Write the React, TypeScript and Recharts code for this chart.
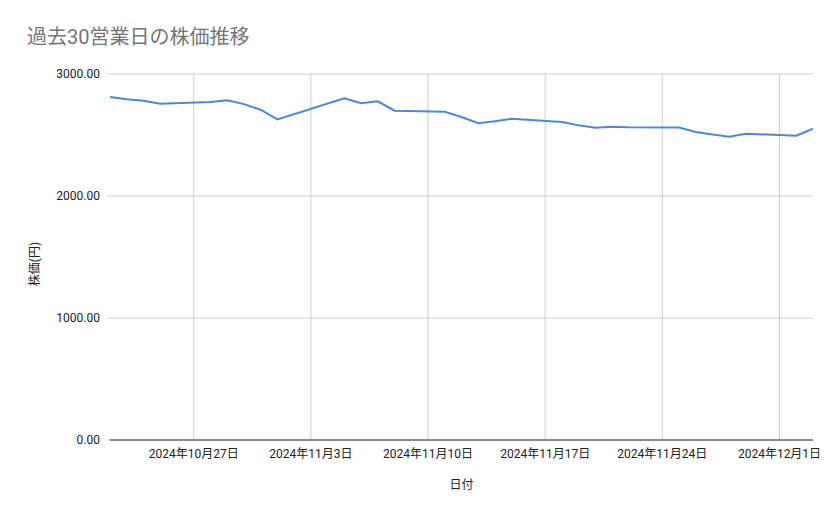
import React from 'react';
import { LineChart, Line, XAxis, YAxis, CartesianGrid, ReferenceLine } from 'recharts';

const dates = [
  '2024-10-22', '2024-10-23', '2024-10-24', '2024-10-25',
  '2024-10-28', '2024-10-29', '2024-10-30', '2024-10-31', '2024-11-01',
  '2024-11-05', '2024-11-06', '2024-11-07', '2024-11-08',
  '2024-11-11', '2024-11-12', '2024-11-13', '2024-11-14', '2024-11-15',
  '2024-11-18', '2024-11-19', '2024-11-20', '2024-11-21', '2024-11-22',
  '2024-11-25', '2024-11-26', '2024-11-27', '2024-11-28', '2024-11-29',
  '2024-12-02', '2024-12-03',
];
const prices = [
  2811, 2793, 2781, 2757,
  2770, 2784, 2753, 2707, 2628,
  2801, 2760, 2776, 2699,
  2691, 2648, 2596, 2612, 2634,
  2607, 2579, 2560, 2568, 2563,
  2561, 2525, 2505, 2486, 2511,
  2494, 2552,
];
const xTickDates = ['2024-10-27', '2024-11-03', '2024-11-10', '2024-11-17', '2024-11-24', '2024-12-01'];
const yTicks = [0, 1000, 2000, 3000];
const domainStart = '2024-10-22';
const domainEnd = '2024-12-03';

const title = '過去30営業日の株価推移';
const xTitle = '日付';
const yTitle = '株価(円)';

const data = dates.map((d, i) => ({ t: Date.parse(d), price: prices[i] }));
const xTicks = xTickDates.map((d) => Date.parse(d));
const xDomain = [Date.parse(domainStart), Date.parse(domainEnd)];

const FONT = "Roboto, 'Noto Sans CJK JP', sans-serif";

const fmtDate = (t: number) => {
  const d = new Date(t);
  return `${d.getUTCFullYear()}年${d.getUTCMonth() + 1}月${d.getUTCDate()}日`;
};

const YLabel = (props: any) => {
  const vb = props.viewBox || { x: 40, y: 74, width: 70, height: 366 };
  const x = vb.x - 1;
  const y = vb.y + vb.height / 2 + 7;
  return (
    <text
      x={x}
      y={y}
      transform={`rotate(-90 ${x} ${y})`}
      textAnchor="middle"
      fill="#222222"
      fontSize={12}
      fontFamily={FONT}
    >
      {yTitle}
    </text>
  );
};

export default function App() {
  return (
    <div style={{ position: 'absolute', left: 0, top: 0, width: 839, height: 519, background: '#ffffff' }}>
      <LineChart
        width={839}
        height={519}
        data={data}
        margin={{ top: 74, right: 26, bottom: 19, left: 40 }}
      >
        <CartesianGrid stroke="#cccccc" vertical={false} />
        {xTicks.map((t) => (
          <ReferenceLine key={t} x={t} stroke="#cccccc" strokeWidth={1} />
        ))}
        <XAxis
          dataKey="t"
          type="number"
          scale="time"
          domain={xDomain}
          ticks={xTicks}
          tickFormatter={fmtDate}
          interval={0}
          tickLine={false}
          axisLine={{ stroke: '#333333' }}
          tick={{ fontSize: 12, fill: '#222222', fontFamily: FONT }}
          tickMargin={3}
          height={60}
          allowDataOverflow
          label={{ value: xTitle, position: 'insideBottom', offset: 11, fill: '#222222', fontSize: 12, fontFamily: FONT }}
        />
        <YAxis
          type="number"
          domain={[0, 3000]}
          ticks={yTicks}
          tickFormatter={(v: number) => v.toFixed(2)}
          width={70}
          axisLine={false}
          tickLine={{ stroke: '#cccccc' }}
          tickSize={3}
          tickMargin={7}
          tick={{ fontSize: 12, fill: '#222222', fontFamily: FONT }}
          label={{ value: yTitle, content: YLabel }}
        />
        <Line
          type="linear"
          dataKey="price"
          stroke="#4a86e8"
          strokeWidth={2}
          dot={false}
          isAnimationActive={false}
        />
      </LineChart>
      <svg
        width={839}
        height={60}
        style={{ position: 'absolute', left: 0, top: 0, pointerEvents: 'none' }}
      >
        <text x={27} y={44} fontSize={20} fill="#757575" fontFamily={FONT}>
          {title}
        </text>
      </svg>
    </div>
  );
}
